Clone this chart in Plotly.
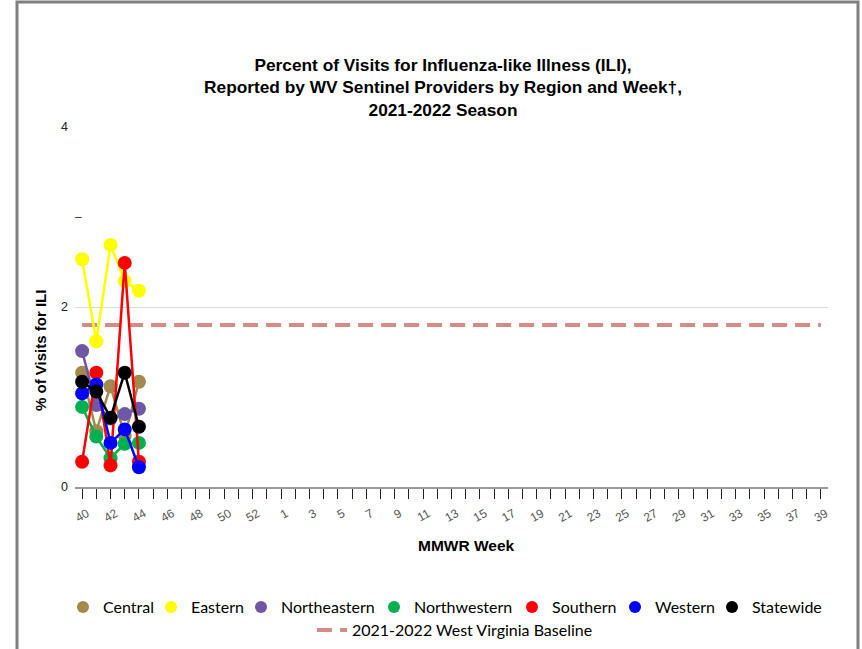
import plotly.graph_objects as go

weeks = [str(w) for w in list(range(40, 54)) + list(range(1, 40))]
reported_weeks = ["40", "41", "42", "43", "44"]

central = [1.27, 0.62, 1.12, 0.57, 1.17]
eastern = [2.53, 1.62, 2.69, 2.29, 2.18]
northeastern = [1.51, 0.91, 0.76, 0.81, 0.87]
northwestern = [0.89, 0.56, 0.32, 0.48, 0.49]
southern = [0.28, 1.27, 0.24, 2.49, 0.28]
western = [1.04, 1.14, 0.49, 0.64, 0.22]
statewide = [1.17, 1.06, 0.77, 1.27, 0.67]
baseline_value = 1.8

series = [
    ("Central", central, "#a38a4c"),
    ("Eastern", eastern, "#ffff00"),
    ("Northeastern", northeastern, "#7057a5"),
    ("Northwestern", northwestern, "#00b050"),
    ("Southern", southern, "#ff0000"),
    ("Western", western, "#0000ff"),
    ("Statewide", statewide, "#000000"),
]
# left x (px) of legend text for each series entry
legend_text_x = [103, 191, 281, 414, 552, 655, 752]
legend_ids = ["legend", "legend3", "legend4", "legend5", "legend6", "legend7", "legend8"]

W, H = 862, 649
L, R, T, B = 75, 34, 127, 162
PW, PH = W - L - R, H - T - B

fig = go.Figure()

# baseline (drawn first, behind)
fig.add_trace(go.Scatter(
    x=weeks, y=[baseline_value] * len(weeks), mode="lines",
    name="2021-2022 West Virginia Baseline",
    line=dict(color="#d38c88", width=4, dash="15px,8px"),
    legend="legend2", hoverinfo="skip",
))

for name, vals, color in series:
    fig.add_trace(go.Scatter(
        x=reported_weeks, y=vals, mode="lines+markers", name=name,
        line=dict(color=color, width=2.5),
        marker=dict(color=color, size=14),
        showlegend=False,
    ))

# legend-only marker entries
for (name, vals, color), lid in zip(series, legend_ids):
    fig.add_trace(go.Scatter(
        x=[None], y=[None], mode="markers", name=name,
        marker=dict(color=color, size=12), legend=lid,
    ))

ticktext = [w if i % 2 == 0 else "" for i, w in enumerate(weeks)]

legend_font = dict(family="Lato, Calibri, sans-serif", size=16, color="#000000")
legend_layouts = {}
for lid, tx in zip(legend_ids, legend_text_x):
    legend_layouts[lid] = dict(
        orientation="h", xref="container", yref="container",
        x=(tx - 40) / W, xanchor="left", y=1 - 607 / H, yanchor="middle",
        font=legend_font, bgcolor="rgba(0,0,0,0)",
    )

fig.update_layout(
    width=W, height=H,
    paper_bgcolor="white", plot_bgcolor="white",
    margin=dict(l=L, r=R, t=T, b=B, autoexpand=False),
    font=dict(family="Liberation Sans, Arial, sans-serif", color="#333333"),
    title=dict(
        text="Percent of Visits for Influenza-like Illness (ILI),<br>Reported by WV Sentinel Providers by Region and Week\u2020,<br>2021-2022 Season",
        x=443 / W, xanchor="center", y=1 - 71 / H, yanchor="top",
        font=dict(family="Liberation Sans, Arial, sans-serif", size=17.3, color="#000000", weight="bold"),
    ),
    xaxis=dict(
        type="category", categoryorder="array", categoryarray=weeks,
        range=[-0.5, len(weeks) - 0.5],
        tickmode="array", tickvals=weeks, ticktext=ticktext,
        tickangle=-30, tickfont=dict(size=12, color="#555555"),
        ticklabelshift=5, ticklabelstandoff=3,
        ticks="outside", ticklen=10, tickcolor="#222222", tickwidth=1,
        showline=True, linecolor="#9a9a9a", linewidth=2,
        showgrid=False, zeroline=False, fixedrange=True,
    ),
    yaxis=dict(
        range=[0, 4], tickvals=[0, 2, 4], ticktext=["0", "2", "4"],
        tickfont=dict(size=12.5, color="#222222"), ticklabelstandoff=6,
        showgrid=True, gridcolor="#d9d9d9", gridwidth=1,
        showline=False, zeroline=False, ticks="", fixedrange=True,
    ),
    legend2=dict(
        orientation="h", xref="container", yref="container",
        x=(352 - 40) / W, xanchor="left", y=1 - 630 / H, yanchor="middle",
        font=legend_font, bgcolor="rgba(0,0,0,0)",
    ),
    showlegend=True,
    **legend_layouts,
)

fig.add_annotation(
    text="% of Visits for ILI", textangle=-90, showarrow=False,
    xref="paper", yref="paper", x=(40 - L) / PW, y=(H - B - 351) / PH,
    xanchor="center", yanchor="middle",
    font=dict(family="Liberation Sans, Arial, sans-serif", size=15, color="#000000", weight="bold"),
)
fig.add_annotation(
    text="MMWR Week", showarrow=False,
    xref="paper", yref="paper", x=(466 - L) / PW, y=(H - B - 545) / PH,
    xanchor="center", yanchor="middle",
    font=dict(family="Liberation Sans, Arial, sans-serif", size=15.5, color="#000000", weight="bold"),
)
fig.add_annotation(
    text="\u2013", showarrow=False,
    xref="paper", yref="y", x=(78 - L) / PW, y=3,
    xanchor="center", yanchor="middle",
    font=dict(size=12, color="#333333"),
)

# outer frame
fig.add_shape(
    type="rect", xref="paper", yref="paper",
    x0=(17 - L) / PW, x1=(858 - L) / PW, y0=-0.6, y1=(H - B - 2) / PH,
    line=dict(color="#7f7f7f", width=3), fillcolor="rgba(0,0,0,0)", layer="below",
)

fig.write_html(
    "out.html",
    config={"displayModeBar": False},
    post_script="document.body.style.margin='0';",
)
